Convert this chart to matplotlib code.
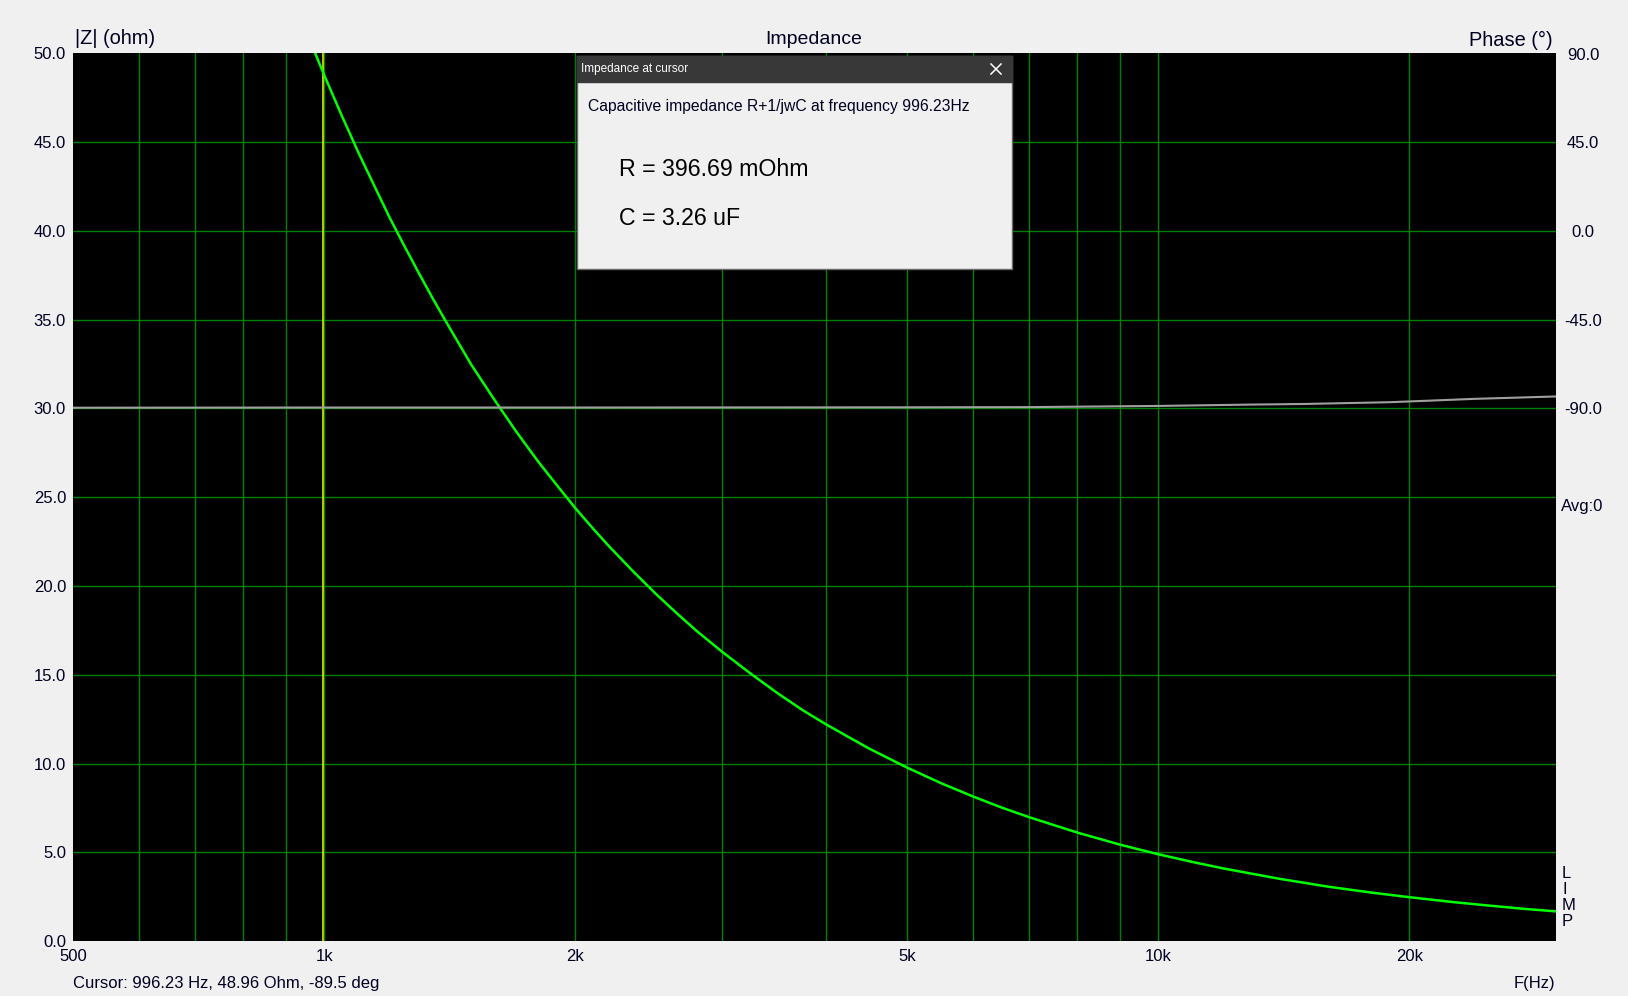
import numpy as np
import matplotlib
matplotlib.use('Agg')
import matplotlib.pyplot as plt
from matplotlib.patches import Rectangle
from matplotlib.lines import Line2D

plt.rcParams['font.family'] = ['Liberation Sans', 'DejaVu Sans']

# impedance magnitude
freq = [974, 1000, 1050, 1100, 1150, 1200, 1250, 1300, 1350, 1400, 1500, 1600,
        1700, 1800, 1900, 2000, 2100, 2200, 2350, 2500, 2650, 2800, 3000, 3250,
        3500, 3750, 4000, 4500, 5000, 5500, 6000, 6500, 7000, 8000, 9000, 10000,
        11000, 12000, 14000, 16000, 18000, 20000, 22500, 25000, 27500, 30000]
zmag = [50.1, 48.8, 46.5, 44.4, 42.5, 40.7, 39.1, 37.6, 36.2, 34.9, 32.5, 30.5,
        28.7, 27.1, 25.7, 24.4, 23.25, 22.2, 20.8, 19.55, 18.45, 17.45, 16.3, 15.05,
        13.95, 13.0, 12.2, 10.85, 9.77, 8.88, 8.14, 7.51, 6.98, 6.11, 5.43, 4.89,
        4.45, 4.08, 3.5, 3.06, 2.73, 2.47, 2.2, 1.99, 1.81, 1.67]

# phase (gray line), degrees
ph_freq = [500, 1000, 2000, 5000, 7000, 10000, 13000, 15000, 19000, 24000, 30000]
phase = [-89.6, -89.5, -89.5, -89.4, -89.3, -88.7, -88.0, -87.7, -86.8, -85.1, -83.9]

cursor_f = 996.23

xticks = [500, 1000, 2000, 5000, 10000, 20000]
xticklabels = ['500', '1k', '2k', '5k', '10k', '20k']
xminor = [600, 700, 800, 900, 3000, 4000, 6000, 7000, 8000, 9000]
zticks = [0, 5, 10, 15, 20, 25, 30, 35, 40, 45, 50]
phticks = [-90, -45, 0, 45, 90]

W, H = 1628, 996
txt = '#000020'
grid_c = '#008000'

fig = plt.figure(figsize=(W / 100, H / 100), dpi=100, facecolor='#f0f0f0')
L, R, T, B = 73, 1556, 53.5, 941
ax = fig.add_axes([L / W, 1 - B / H, (R - L) / W, (B - T) / H])
ax.set_facecolor('black')
ax.set_xscale('log')
ax.set_xlim(500, 30000)
ax.set_ylim(0, 50)

ax.set_xticks(xticks)
ax.set_xticklabels(xticklabels)
ax.set_xticks(xminor, minor=True)
ax.xaxis.set_minor_formatter(plt.NullFormatter())
ax.set_yticks(zticks)
ax.set_yticklabels(['%.1f' % v for v in zticks])
ax.grid(True, which='both', color=grid_c, lw=1)
ax.set_axisbelow(True)
ax.tick_params(which='both', length=0, labelsize=12, labelcolor=txt)
ax.tick_params(axis='x', pad=6)
ax.tick_params(axis='y', pad=5)
for s in ax.spines.values():
    s.set_visible(False)
# no grid lines on the frame edges
ax.get_xgridlines()[0].set_visible(False)
ax.get_ygridlines()[0].set_visible(False)
ax.get_ygridlines()[-1].set_visible(False)

ax2 = ax.twinx()
ax2.set_ylim(-360, 90)
ax2.set_yticks(phticks)
ax2.set_yticklabels(['%.1f' % v for v in phticks])
ax2.tick_params(length=0, labelsize=12, labelcolor=txt, pad=19.5)
for lbl in ax2.get_yticklabels():
    lbl.set_horizontalalignment('center')
for s in ax2.spines.values():
    s.set_visible(False)

ax2.plot(ph_freq, phase, color='#a0a0a0', lw=1.5, zorder=3)
ax.axvline(cursor_f, color='#d4f000', lw=1.2, zorder=2)
ax.plot(freq, zmag, color='#00ff00', lw=1.8, zorder=4)
ax.set_zorder(ax2.get_zorder() - 1)
ax2.patch.set_visible(False)

def px(x, y):
    return x / W, 1 - y / H

# titles / labels around the plot
fig.text(*px(75, 39), '|Z| (ohm)', fontsize=14.4, color=txt, va='center', ha='left')
fig.text(*px(814, 39), 'Impedance', fontsize=14, color=txt, va='center', ha='center')
fig.text(*px(1553, 40), 'Phase (°)', fontsize=14.4, color=txt, va='center', ha='right')
fig.text(*px(1561, 506), 'Avg:0', fontsize=12, color=txt, va='center', ha='left')
for i, ch in enumerate('LIMP'):
    fig.text(*px(1562, 873 + i * 16), ch, fontsize=12, color=txt, va='center', ha='left')
fig.text(*px(73, 983), 'Cursor: 996.23 Hz, 48.96 Ohm, -89.5 deg', fontsize=12,
         color=txt, va='center', ha='left')
fig.text(*px(1555, 983), 'F(Hz)', fontsize=12, color=txt, va='center', ha='right')

# cursor dialog box
dx0, dy0, dx1, dy1 = 577, 56, 1012, 269
fig.patches.append(Rectangle(px(dx0, dy1), (dx1 - dx0) / W, (dy1 - dy0) / H,
                             transform=fig.transFigure, facecolor='#f0f0f0',
                             edgecolor='#6a6a6a', lw=1, zorder=10))
fig.patches.append(Rectangle(px(dx0, 82), (dx1 - dx0) / W, (82 - dy0) / H,
                             transform=fig.transFigure, facecolor='#383838',
                             edgecolor='#383838', lw=1, zorder=11))
fig.text(*px(581, 69), 'Impedance at cursor', fontsize=8.5, color='white',
         va='center', ha='left', zorder=12)
# close "x" drawn as two thin strokes
for (xa, ya, xb, yb) in [(991, 64, 1001, 74), (991, 74, 1001, 64)]:
    p0, p1 = px(xa, ya), px(xb, yb)
    fig.lines.append(Line2D([p0[0], p1[0]], [p0[1], p1[1]], transform=fig.transFigure,
                            color='white', lw=1.1, zorder=12))
fig.text(*px(588, 107), 'Capacitive impedance R+1/jwC at frequency 996.23Hz',
         fontsize=11.3, color=txt, va='center', ha='left', zorder=12)
fig.text(*px(619, 169), 'R = 396.69 mOhm', fontsize=16.7, color='black',
         va='center', ha='left', zorder=12)
fig.text(*px(619, 218), 'C = 3.26 uF', fontsize=16.7, color='black',
         va='center', ha='left', zorder=12)

fig.savefig('out.png', dpi=100, facecolor=fig.get_facecolor())
